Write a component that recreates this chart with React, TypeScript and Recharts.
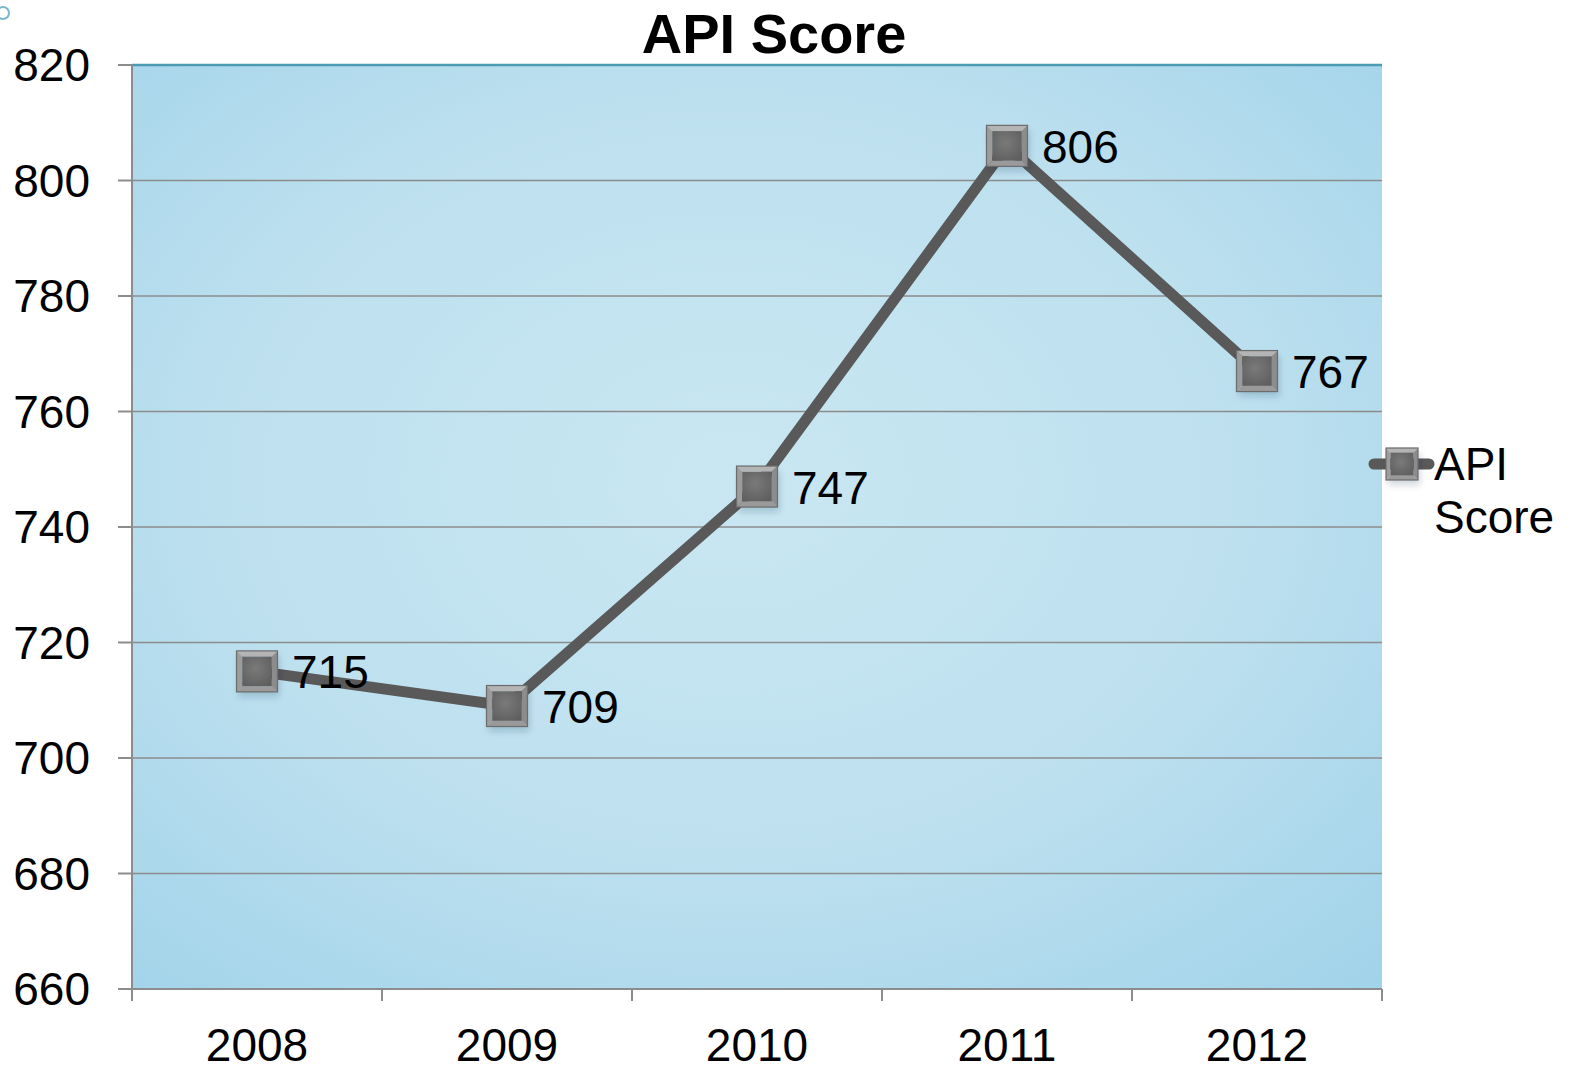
import React from "react";
import {
  LineChart,
  Line,
  XAxis,
  YAxis,
  CartesianGrid,
  LabelList,
  Legend,
  ReferenceLine,
} from "recharts";

const years = ["2008", "2009", "2010", "2011", "2012"];
const apiScores = [715, 709, 747, 806, 767];
const yTicks = [660, 680, 700, 720, 740, 760, 780, 800, 820];
const seriesName = "API Score";

const data = years.map((year, i) => ({ year, score: apiScores[i] }));

const WIDTH = 1575;
const HEIGHT = 1070;
const PLOT_LEFT = 132;
const PLOT_RIGHT = 1382;
const PLOT_TOP = 65;
const PLOT_BOTTOM = 989;
const HALF_BAND = (PLOT_RIGHT - PLOT_LEFT) / years.length / 2;
const X_TICK_SIZE = 12;
const X_TICK_MARGIN = 27;
const FONT = "'Liberation Sans', Arial, Helvetica, sans-serif";
const GRID = "#8c8c8c";
const TEAL = "#4b9bb2";
const LINE = "#595959";

// beveled grey square used for the points and the legend key
function BevelSquare({ cx, cy, size }: { cx: number; cy: number; size: number }) {
  const h = size / 2;
  const b = size * 0.14;
  const l = cx - h, r = cx + h, t = cy - h, btm = cy + h;
  return (
    <g>
      <rect x={l + 2} y={t + 5} width={size} height={size} fill="rgba(0,40,70,0.18)" filter="url(#softShadow)" />
      <polygon points={`${l},${t} ${r},${t} ${r - b},${t + b} ${l + b},${t + b}`} fill="#b4b4b4" />
      <polygon points={`${l},${t} ${l + b},${t + b} ${l + b},${btm - b} ${l},${btm}`} fill="#9c9c9c" />
      <polygon points={`${r},${t} ${r},${btm} ${r - b},${btm - b} ${r - b},${t + b}`} fill="#8c8c8c" />
      <polygon points={`${l},${btm} ${l + b},${btm - b} ${r - b},${btm - b} ${r},${btm}`} fill="#9a9a9a" />
      <rect x={l + b} y={t + b} width={size - 2 * b} height={size - 2 * b} fill="url(#markerFill)" />
      <rect x={l} y={t} width={size} height={size} fill="none" stroke="#6c6c6c" strokeWidth={1.2} />
    </g>
  );
}

const renderDot = (props: any) => {
  const { cx, cy, index } = props;
  return <BevelSquare key={`dot-${index}`} cx={cx} cy={cy} size={41} />;
};

const renderValueLabel = (props: any) => {
  const { x, y, value } = props;
  return (
    <text x={x + 35} y={y + 17} fontSize={46} fill="#000" fontFamily={FONT}>
      {value}
    </text>
  );
};

const renderXTick = (props: any) => {
  const { x, y, payload, index } = props;
  const top = y - X_TICK_SIZE - X_TICK_MARGIN;
  return (
    <g>
      <line x1={x - HALF_BAND} x2={x - HALF_BAND} y1={top} y2={top + X_TICK_SIZE} stroke={GRID} strokeWidth={2} />
      {index === years.length - 1 && (
        <line x1={x + HALF_BAND} x2={x + HALF_BAND} y1={top} y2={top + X_TICK_SIZE} stroke={GRID} strokeWidth={2} />
      )}
      <text x={x} y={y} dy="0.71em" textAnchor="middle" fontSize={46} fill="#000" fontFamily={FONT}>
        {payload.value}
      </text>
    </g>
  );
};

const renderLegend = (props: any) => {
  const entry = props.payload && props.payload[0];
  const words = (entry ? String(entry.value) : seriesName).split(" ");
  return (
    <svg width={215} height={120} style={{ overflow: "visible" }}>
      <line x1={14} x2={69} y1={34} y2={34} stroke={LINE} strokeWidth={11} strokeLinecap="round" />
      <BevelSquare cx={42} cy={34} size={32} />
      {words.map((w, i) => (
        <text key={w} x={74} y={50 + i * 53} fontSize={46} fill="#000" fontFamily={FONT}>
          {w}
        </text>
      ))}
    </svg>
  );
};

export default function App() {
  return (
    <div
      style={{
        position: "absolute",
        left: 0,
        top: 0,
        width: WIDTH,
        height: HEIGHT,
        background: "#fff",
        fontFamily: FONT,
        overflow: "hidden",
      }}
    >
      <div
        style={{
          position: "absolute",
          left: -4,
          top: 6,
          width: 10,
          height: 10,
          border: "2px solid #7ab7c9",
          borderRadius: "50%",
        }}
      />
      <div
        style={{
          position: "absolute",
          left: 0,
          top: 6,
          width: 1548,
          textAlign: "center",
          fontSize: 56,
          lineHeight: "56px",
          fontWeight: "bold",
          color: "#000",
        }}
      >
        API Score
      </div>
      <LineChart
        width={WIDTH}
        height={HEIGHT}
        data={data}
        margin={{ top: PLOT_TOP, right: WIDTH - PLOT_RIGHT, bottom: 0, left: 0 }}
      >
        <defs>
          <radialGradient id="plotBg" cx="48%" cy="45%" r="75%">
            <stop offset="0%" stopColor="#c9e7f2" />
            <stop offset="55%" stopColor="#bde0ef" />
            <stop offset="100%" stopColor="#a1d3e9" />
          </radialGradient>
          <radialGradient id="markerFill" cx="45%" cy="40%" r="70%">
            <stop offset="0%" stopColor="#7a7a7a" />
            <stop offset="100%" stopColor="#5e5e5e" />
          </radialGradient>
          <filter id="softShadow" x="-30%" y="-30%" width="160%" height="160%">
            <feGaussianBlur stdDeviation="3" />
          </filter>
        </defs>
        <CartesianGrid vertical={false} stroke={GRID} strokeWidth={1.6} fill="url(#plotBg)" />
        <XAxis
          dataKey="year"
          height={HEIGHT - PLOT_BOTTOM}
          padding={{ left: HALF_BAND, right: HALF_BAND }}
          axisLine={{ stroke: GRID, strokeWidth: 2 }}
          tickLine={false}
          tickSize={X_TICK_SIZE}
          tickMargin={X_TICK_MARGIN}
          tick={renderXTick}
          interval={0}
        />
        <YAxis
          width={PLOT_LEFT}
          domain={[660, 820]}
          ticks={yTicks}
          interval={0}
          axisLine={{ stroke: GRID, strokeWidth: 2 }}
          tickLine={{ stroke: GRID, strokeWidth: 2 }}
          tickSize={14}
          tickMargin={28}
          tick={{ fontSize: 46, fill: "#000", fontFamily: FONT }}
        />
        <YAxis
          yAxisId="right"
          orientation="right"
          width={0}
          tick={false}
          tickLine={false}
          axisLine={{ stroke: TEAL, strokeWidth: 2.5 }}
        />
        <ReferenceLine y={820} stroke={TEAL} strokeWidth={2.5} />
        <Legend
          layout="horizontal"
          align="center"
          verticalAlign="middle"
          content={renderLegend}
          wrapperStyle={{ left: 1360, top: 430, width: 215, height: 120 }}
        />
        <Line
          type="linear"
          dataKey="score"
          name={seriesName}
          stroke={LINE}
          strokeWidth={11}
          dot={renderDot}
          activeDot={false}
          isAnimationActive={false}
        >
          <LabelList dataKey="score" content={renderValueLabel} />
        </Line>
      </LineChart>
    </div>
  );
}
